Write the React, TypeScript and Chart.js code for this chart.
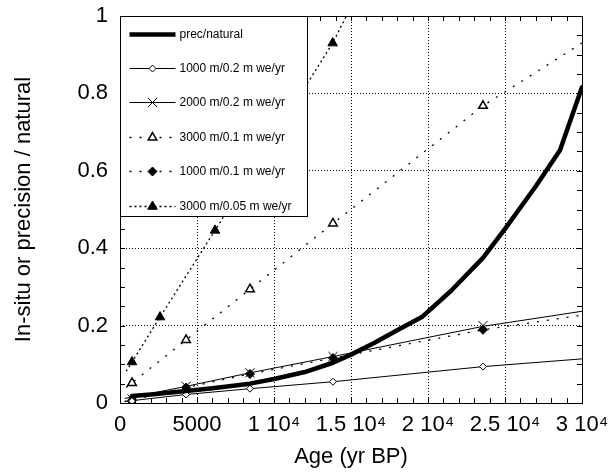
import React, { useEffect, useRef } from "react";
import { Chart, registerables } from "chart.js";
Chart.register(...registerables);

// ---------- DATA ----------
const xTickLabels = ["0", "5000", "1 10⁴", "1.5 10⁴", "2 10⁴", "2.5 10⁴", "3 10⁴"];
const yTickLabels = ["0", "0.2", "0.4", "0.6", "0.8", "1"];

const seriesNames = [
  "prec/natural",
  "1000 m/0.2 m we/yr",
  "2000 m/0.2 m we/yr",
  "3000 m/0.1 m we/yr",
  "1000 m/0.1 m we/yr",
  "3000 m/0.05 m we/yr",
];

// prec/natural (thick line, no markers)
const precAges = [780, 2000, 4290, 6000, 8440, 10000, 12000, 13830, 15000, 16500, 18000, 19600, 21500, 23570, 25000, 27000, 28570, 30000];
const precValues = [0.018, 0.022, 0.031, 0.038, 0.05, 0.062, 0.08, 0.104, 0.125, 0.155, 0.188, 0.222, 0.29, 0.375, 0.45, 0.56, 0.653, 0.816];

// common marker ages
const markerAges = [780, 4290, 8440, 13830, 23570];

// 1000 m / 0.2 m we/yr
const s1LineAges = [300, 780, 4290, 8440, 13830, 23570, 30000];
const s1LineValues = [0.004, 0.006, 0.022, 0.037, 0.055, 0.094, 0.114];
const s1MarkerValues = [0.005, 0.022, 0.037, 0.055, 0.094];

// 2000 m / 0.2 m we/yr
const s2LineAges = [300, 780, 4290, 8440, 13830, 23570, 30000];
const s2LineValues = [0.012, 0.015, 0.043, 0.078, 0.12, 0.198, 0.237];
const s2MarkerValues = [0.01, 0.043, 0.078, 0.12, 0.2];

// 3000 m / 0.1 m we/yr
const s3LineAges = [400, 780, 4290, 8440, 13830, 23570, 30000];
const s3LineValues = [0.04, 0.052, 0.163, 0.294, 0.464, 0.768, 0.93];
const s3MarkerValues = [0.052, 0.163, 0.294, 0.464, 0.768];

// 1000 m / 0.1 m we/yr
const s4LineAges = [300, 780, 4290, 8440, 13830, 23570, 30000];
const s4LineValues = [0.004, 0.007, 0.04, 0.075, 0.116, 0.189, 0.227];
const s4MarkerValues = [0.007, 0.04, 0.075, 0.116, 0.189];

// 3000 m / 0.05 m we/yr
const s5LineAges = [400, 780, 2600, 6170, 13810, 14700];
const s5LineValues = [0.082, 0.106, 0.222, 0.446, 0.93, 1.0];
const s5MarkerAges = [780, 2600, 6170, 13810];
const s5MarkerValues = [0.106, 0.222, 0.446, 0.93];

// ---------- STYLES ----------
type MarkerKind = "none" | "diamondOpen" | "cross" | "triangleOpen" | "diamondFilled" | "triangleFilled";
const seriesStyles: { width: number; dash: number[]; marker: MarkerKind }[] = [
  { width: 4.5, dash: [], marker: "none" },
  { width: 1, dash: [], marker: "diamondOpen" },
  { width: 1, dash: [], marker: "cross" },
  { width: 1.3, dash: [2, 8], marker: "triangleOpen" },
  { width: 1.3, dash: [2, 8], marker: "diamondFilled" },
  { width: 1.3, dash: [2, 3], marker: "triangleFilled" },
];

const pts = (xs: number[], ys: number[]) => xs.map((x, i) => ({ x, y: ys[i] }));

function markerOpts(kind: MarkerKind) {
  switch (kind) {
    case "diamondOpen":
      return { pointStyle: "rectRot", pointRadius: 3.5, pointBackgroundColor: "#fff", pointBorderColor: "#000", pointBorderWidth: 1 };
    case "cross":
      return { pointStyle: "crossRot", pointRadius: 6.5, pointBackgroundColor: "#000", pointBorderColor: "#000", pointBorderWidth: 1 };
    case "triangleOpen":
      return { pointStyle: "triangle", pointRadius: 5, pointBackgroundColor: "#fff", pointBorderColor: "#000", pointBorderWidth: 1.5 };
    case "diamondFilled":
      return { pointStyle: "rectRot", pointRadius: 4.5, pointBackgroundColor: "#000", pointBorderColor: "#000", pointBorderWidth: 1 };
    case "triangleFilled":
      return { pointStyle: "triangle", pointRadius: 5.5, pointBackgroundColor: "#000", pointBorderColor: "#000", pointBorderWidth: 1 };
    default:
      return { pointRadius: 0 };
  }
}

function drawMarker(ctx: CanvasRenderingContext2D, kind: MarkerKind, x: number, y: number) {
  const o: any = markerOpts(kind);
  if (kind === "none") return;
  const r = o.pointRadius;
  ctx.save();
  ctx.setLineDash([]);
  ctx.lineWidth = o.pointBorderWidth;
  ctx.strokeStyle = "#000";
  ctx.fillStyle = o.pointBackgroundColor;
  ctx.beginPath();
  if (kind === "diamondOpen" || kind === "diamondFilled") {
    ctx.moveTo(x - r, y);
    ctx.lineTo(x, y - r);
    ctx.lineTo(x + r, y);
    ctx.lineTo(x, y + r);
    ctx.closePath();
    ctx.fill();
    ctx.stroke();
  } else if (kind === "triangleOpen" || kind === "triangleFilled") {
    let a = 0;
    for (let i = 0; i < 3; i++) {
      const px = x + Math.sin(a) * r;
      const py = y - Math.cos(a) * r;
      if (i === 0) ctx.moveTo(px, py);
      else ctx.lineTo(px, py);
      a += (2 * Math.PI) / 3;
    }
    ctx.closePath();
    ctx.fill();
    ctx.stroke();
  } else if (kind === "cross") {
    const d = r * Math.SQRT1_2;
    ctx.moveTo(x - d, y - d);
    ctx.lineTo(x + d, y + d);
    ctx.moveTo(x - d, y + d);
    ctx.lineTo(x + d, y - d);
    ctx.stroke();
  }
  ctx.restore();
}

const frameTicksPlugin = {
  id: "frameTicks",
  afterDatasetsDraw(chart: any) {
    const { ctx, chartArea: a, scales } = chart;
    const xs = scales.x;
    const ys = scales.y;
    ctx.save();
    ctx.strokeStyle = "#000";
    ctx.lineWidth = 1;
    ctx.setLineDash([]);
    const L = 5;
    ctx.beginPath();
    for (let v = 0; v <= 30000; v += 1000) {
      const p = Math.round(xs.getPixelForValue(v)) + 0.5;
      ctx.moveTo(p, a.bottom);
      ctx.lineTo(p, a.bottom - L);
      ctx.moveTo(p, a.top);
      ctx.lineTo(p, a.top + L);
    }
    for (let i = 0; i <= 20; i++) {
      const p = Math.round(ys.getPixelForValue(i * 0.05)) + 0.5;
      ctx.moveTo(a.left, p);
      ctx.lineTo(a.left + L, p);
      ctx.moveTo(a.right, p);
      ctx.lineTo(a.right - L, p);
    }
    ctx.stroke();
    ctx.strokeRect(Math.round(a.left) + 0.5, Math.round(a.top) + 0.5, Math.round(a.right - a.left), Math.round(a.bottom - a.top));
    ctx.restore();
  },
};

const legendPlugin = {
  id: "boxLegend",
  afterDraw(chart: any) {
    const { ctx, chartArea: a } = chart;
    const x0 = Math.round(a.left) + 0.5;
    const y0 = Math.round(a.top) + 0.5;
    const w = 187;
    const h = 200;
    ctx.save();
    ctx.fillStyle = "#fff";
    ctx.fillRect(x0, y0, w, h);
    ctx.strokeStyle = "#000";
    ctx.lineWidth = 1;
    ctx.setLineDash([]);
    ctx.strokeRect(x0, y0, w, h);
    ctx.font = "12px 'Liberation Sans', Arial, sans-serif";
    ctx.textBaseline = "middle";
    ctx.fillStyle = "#000";
    seriesNames.forEach((name, i) => {
      const st = seriesStyles[i];
      const cy = Math.round(y0 + 17 + i * 34.4) + 0.5;
      ctx.save();
      ctx.lineWidth = st.width;
      ctx.setLineDash(st.dash);
      ctx.beginPath();
      ctx.moveTo(x0 + 9, cy);
      ctx.lineTo(x0 + 55, cy);
      ctx.stroke();
      ctx.restore();
      drawMarker(ctx, st.marker, x0 + 32, cy);
      ctx.fillStyle = "#000";
      ctx.fillText(name, x0 + 59, cy);
    });
    ctx.restore();
  },
};

export default function App() {
  const ref = useRef<HTMLCanvasElement | null>(null);

  useEffect(() => {
    document.body.style.margin = "0";
    const canvas = ref.current;
    if (!canvas) return;

    const lineSets = [
      { xs: precAges, ys: precValues },
      { xs: s1LineAges, ys: s1LineValues },
      { xs: s2LineAges, ys: s2LineValues },
      { xs: s3LineAges, ys: s3LineValues },
      { xs: s4LineAges, ys: s4LineValues },
      { xs: s5LineAges, ys: s5LineValues },
    ];
    const markerSets = [
      null,
      { xs: markerAges, ys: s1MarkerValues },
      { xs: markerAges, ys: s2MarkerValues },
      { xs: markerAges, ys: s3MarkerValues },
      { xs: markerAges, ys: s4MarkerValues },
      { xs: s5MarkerAges, ys: s5MarkerValues },
    ];

    const datasets: any[] = [];
    lineSets.forEach((s, i) => {
      const st = seriesStyles[i];
      datasets.push({
        label: seriesNames[i],
        data: pts(s.xs, s.ys),
        showLine: true,
        borderColor: "#000",
        borderWidth: st.width,
        borderDash: st.dash,
        pointRadius: 0,
        tension: 0,
        borderJoinStyle: "round",
        borderCapStyle: i === 0 ? "round" : "butt",
        order: i === 0 ? 0 : 10 + i,
      });
    });
    markerSets.forEach((m, i) => {
      if (!m) return;
      datasets.push({
        label: seriesNames[i] + " markers",
        data: pts(m.xs, m.ys),
        showLine: false,
        ...markerOpts(seriesStyles[i].marker),
        order: 1 + i,
      });
    });

    const tickFont = { family: "'Liberation Sans', Arial, sans-serif", size: 22 };
    const chart = new Chart(canvas, {
      type: "scatter",
      data: { datasets },
      plugins: [frameTicksPlugin, legendPlugin],
      options: {
        animation: false,
        responsive: true,
        maintainAspectRatio: false,
        layout: { padding: { left: 0, top: 16, right: 26, bottom: 0 } },
        plugins: { legend: { display: false }, tooltip: { enabled: false } },
        scales: {
          x: {
            type: "linear",
            min: 0,
            max: 30000,
            ticks: {
              stepSize: 5000,
              color: "#000",
              font: tickFont,
              padding: 9,
              maxRotation: 0,
              autoSkip: false,
              callback: (_v: any, i: number) => xTickLabels[i],
            },
            grid: { color: "#000", lineWidth: 1, drawTicks: false },
            border: { display: false, dash: [1, 2] },
            title: {
              display: true,
              text: "Age (yr BP)",
              color: "#000",
              font: { family: "'Liberation Sans', Arial, sans-serif", size: 22 },
              padding: { top: 0, bottom: 3 },
            },
            afterFit: (s: any) => {
              s.height = 70;
              s.paddingLeft = 0;
              s.paddingRight = 0;
            },
          },
          y: {
            type: "linear",
            min: 0,
            max: 1,
            ticks: {
              stepSize: 0.2,
              color: "#000",
              font: tickFont,
              padding: 12,
              autoSkip: false,
              callback: (_v: any, i: number) => yTickLabels[i],
            },
            grid: { color: "#000", lineWidth: 1, drawTicks: false },
            border: { display: false, dash: [1, 2] },
            title: {
              display: true,
              text: "In-situ or precision / natural",
              color: "#000",
              font: { family: "'Liberation Sans', Arial, sans-serif", size: 22 },
              padding: { top: 11, bottom: 0 },
            },
            afterFit: (s: any) => {
              s.width = 120;
              s.paddingTop = 0;
              s.paddingBottom = 0;
            },
          },
        },
      } as any,
    });
    return () => chart.destroy();
  }, []);

  return (
    <div style={{ width: 608, height: 473, position: "relative" }}>
      <canvas ref={ref} />
    </div>
  );
}
